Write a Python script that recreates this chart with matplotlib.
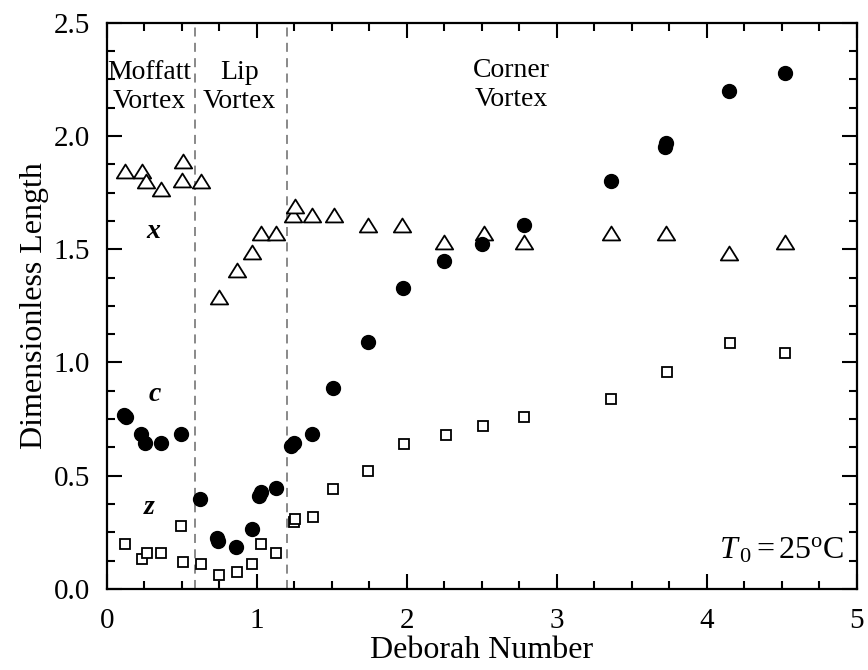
import numpy as np
import matplotlib
matplotlib.use("Agg")
import matplotlib.pyplot as plt
from matplotlib.path import Path

# Data
# x: open triangles
tri_de = [0.12, 0.235, 0.26, 0.36, 0.50, 0.51, 0.63, 0.75, 0.87, 0.965, 1.03, 1.13,
          1.24, 1.255, 1.37, 1.515, 1.745, 1.97, 2.25, 2.515, 2.785, 3.36, 3.73, 4.15, 4.525]
tri_len = [1.845, 1.845, 1.80, 1.765, 1.805, 1.89, 1.80, 1.29, 1.41, 1.49, 1.57, 1.57,
           1.65, 1.69, 1.65, 1.65, 1.605, 1.605, 1.53, 1.57, 1.53, 1.57, 1.57, 1.485, 1.53]

# c: filled circles
circ_de = [0.115, 0.125, 0.23, 0.255, 0.36, 0.495, 0.62, 0.735, 0.74, 0.86, 0.965, 1.015,
           1.025, 1.125, 1.23, 1.25, 1.37, 1.51, 1.745, 1.975, 2.25, 2.505, 2.785, 3.36,
           3.725, 3.73, 4.15, 4.52]
circ_len = [0.77, 0.76, 0.683, 0.646, 0.646, 0.685, 0.398, 0.225, 0.21, 0.185, 0.266, 0.41,
            0.43, 0.444, 0.629, 0.646, 0.685, 0.888, 1.09, 1.327, 1.447, 1.522, 1.605, 1.80,
            1.95, 1.97, 2.20, 2.28]

# z: open squares
sq_de = [0.12, 0.235, 0.265, 0.36, 0.495, 0.51, 0.63, 0.745, 0.865, 0.97, 1.03, 1.125,
         1.245, 1.255, 1.375, 1.51, 1.745, 1.98, 2.26, 2.51, 2.785, 3.365, 3.735, 4.155, 4.525]
sq_len = [0.20, 0.13, 0.16, 0.158, 0.278, 0.118, 0.111, 0.06, 0.074, 0.108, 0.20, 0.158,
          0.296, 0.311, 0.318, 0.441, 0.522, 0.641, 0.68, 0.72, 0.76, 0.84, 0.96, 1.086, 1.041]

# regime boundaries
boundaries = [0.585, 1.2]

plt.rcParams['font.family'] = ['Liberation Serif', 'DejaVu Serif']
plt.rcParams['mathtext.fontset'] = 'custom'
plt.rcParams['mathtext.rm'] = 'Liberation Serif'
plt.rcParams['mathtext.it'] = 'Liberation Serif:italic'

fig = plt.figure(figsize=(8.68, 6.7), dpi=100)
ax = fig.add_axes([0.123, 0.121, 0.864, 0.845])

# wide, flat open triangle
tri_marker = Path([(-1, -0.8), (1, -0.8), (0, 0.8), (-1, -0.8)],
                  [Path.MOVETO, Path.LINETO, Path.LINETO, Path.CLOSEPOLY])

for xb in boundaries:
    ax.axvline(xb, color='gray', ls=(0, (5, 3.5)), lw=1.3, zorder=1)

ax.plot(tri_de, tri_len, ls='none', marker=tri_marker, ms=12.5, mfc='white',
        mec='black', mew=1.3, zorder=3)
ax.plot(circ_de, circ_len, ls='none', marker='o', ms=10, mfc='black',
        mec='black', zorder=4)
ax.plot(sq_de, sq_len, ls='none', marker='s', ms=7.5, mfc='white',
        mec='black', mew=1.3, zorder=3)

ax.set_xlim(0, 5)
ax.set_ylim(0, 2.5)
ax.set_xticks(np.arange(0, 6, 1))
ax.set_xticks(np.arange(0, 5.01, 0.25), minor=True)
ax.set_yticks(np.arange(0, 2.51, 0.5))
ax.set_yticks(np.arange(0, 2.51, 0.125), minor=True)
ax.xaxis.set_major_formatter(matplotlib.ticker.FormatStrFormatter('%d'))
ax.yaxis.set_major_formatter(matplotlib.ticker.FormatStrFormatter('%.1f'))
ax.tick_params(which='both', direction='in', top=True, right=True, labelsize=21, width=1.5)
ax.tick_params(which='major', length=11)
ax.tick_params(which='minor', length=6)
ax.tick_params(axis='x', which='major', pad=14)
ax.tick_params(axis='y', which='major', pad=12)
for s in ax.spines.values():
    s.set_linewidth(1.6)

ax.set_xlabel('Deborah Number', fontsize=23, labelpad=1)
ax.set_ylabel('Dimensionless Length', fontsize=23, labelpad=3)

# regime labels
ax.text(0.285, 2.215, 'Moffatt\nVortex', ha='center', va='center', fontsize=20, linespacing=1.2)
ax.text(0.885, 2.215, 'Lip\nVortex', ha='center', va='center', fontsize=20, linespacing=1.2)
ax.text(2.695, 2.225, 'Corner\nVortex', ha='center', va='center', fontsize=20, linespacing=1.2)

# series labels
ax.text(0.307, 1.58, 'x', ha='center', va='center', fontsize=20, style='italic', weight='bold')
ax.text(0.322, 0.86, 'c', ha='center', va='center', fontsize=20, style='italic', weight='bold')
ax.text(0.284, 0.36, 'z', ha='center', va='center', fontsize=20, style='italic', weight='bold')

ax.text(4.92, 0.135, r'$T_{\,0} = 25^{\mathrm{o}}$C', ha='right', va='baseline', fontsize=23)

fig.savefig('out.png', dpi=100)
